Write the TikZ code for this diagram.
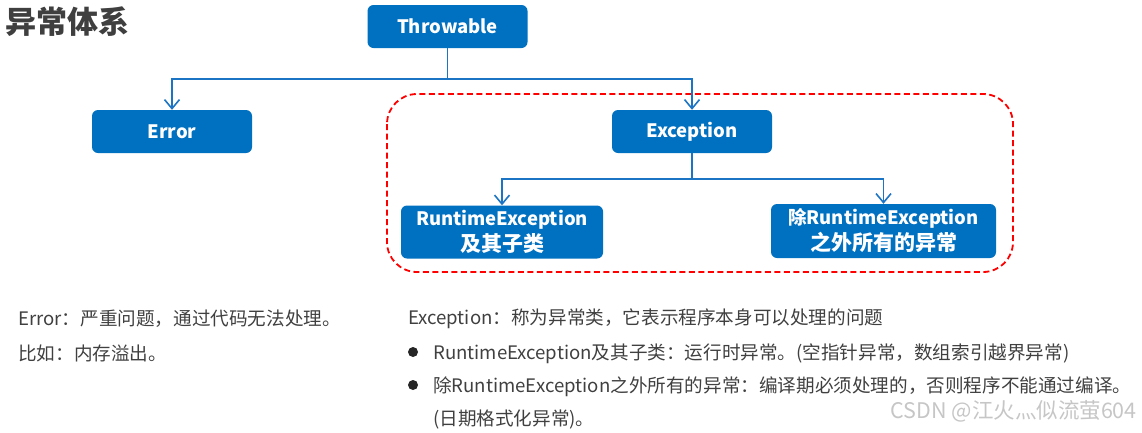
\documentclass[tikz,border=0pt]{standalone}
\usepackage{fontspec}
\setmainfont{Noto Sans CJK SC}
\usetikzlibrary{arrows.meta,positioning}
\definecolor{boxblue}{HTML}{0070C0}
\definecolor{linkblue}{HTML}{1C75C4}
\definecolor{framered}{HTML}{FF0000}
\definecolor{titlegray}{HTML}{3F3F3F}
\definecolor{bodygray}{HTML}{404040}
\definecolor{markgray}{HTML}{C6C6C6}
\tikzset{
  cls/.style={fill=boxblue, rounded corners=6pt, text=white, align=center, inner sep=0pt, minimum width=160pt, minimum height=43pt, font=\fontsize{18.5}{26}\selectfont\bfseries},
  clsw/.style={cls, minimum height=53pt},
  conn/.style={-{Straight Barb[length=9pt,width=15pt]}, line width=1.6pt, draw=linkblue},
  frame/.style={draw=framered, line width=1.8pt, dash pattern=on 6pt off 3.5pt, rounded corners=30pt},
  note/.style={anchor=base west, inner sep=0pt, text=bodygray, font=\fontsize{18.6}{24}\selectfont},
}
\begin{document}
\begin{tikzpicture}[x=1pt,y=-1pt]
  \useasboundingbox (0,0) rectangle (1142,432);
  \node[anchor=base west, inner sep=0pt, text=titlegray, font=\fontsize{31}{36}\selectfont\bfseries] (title) at (5,33) {异常体系};
  % class boxes
  \draw[frame] (387,94) rectangle (1013,272);
  \node[cls] (throwable) at (447.5,26.5) {Throwable};
  \node[cls] (error) at (172,131.5) {Error};
  \node[cls] (exception) at (692,131.5) {Exception};
  \node[clsw, minimum width=202pt] (runtime) at (502,232) {RuntimeException\\{\fontsize{21}{26}\selectfont 及其子类}};
  \node[clsw, minimum width=225pt, minimum height=54pt] (checked) at (883.5,231) {除RuntimeException\\{\fontsize{21}{26}\selectfont 之外所有的异常}};
  \draw[conn] (throwable.south) -- ++(0,31) -| (error.north);
  \draw[conn] (throwable.south) -- ++(0,31) -| (exception.north);
  \draw[conn] (exception.south) -- ++(0,26) -| (runtime.north);
  \draw[conn] (exception.south) -- ++(0,26) -| (checked.north);
  % notes
  \node[note] (errdesc) at (18,325) {Error：严重问题，通过代码无法处理。};
  \node[note] (errexample) at (18,360) {比如：内存溢出。};
  \node[note] (excdesc) at (408,324) {Exception：称为异常类，它表示程序本身可以处理的问题};
  \fill[black!85] (413,352) circle (5pt);
  \node[note] (rtdesc) at (433,359) {RuntimeException及其子类：运行时异常。(空指针异常，数组索引越界异常)};
  \fill[black!85] (413,385) circle (5pt);
  \node[note] (ckdesc) at (433,392) {除RuntimeException之外所有的异常：编译期必须处理的，否则程序不能通过编译。};
  \node[note] (ckexample) at (433,425) {(日期格式化异常)。};
  \node[anchor=base east, inner sep=0pt, text=markgray, font=\fontsize{21.5}{24}\selectfont] (watermark) at (1137,418) {CSDN @江火灬似流萤604};
\end{tikzpicture}
\end{document}
